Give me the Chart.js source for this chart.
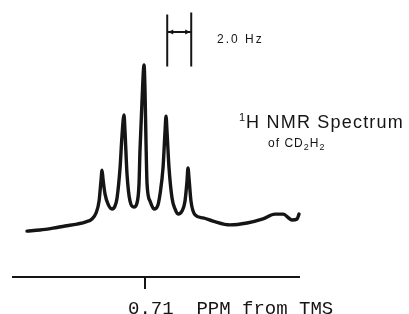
<!DOCTYPE html>
<html>
<head>
<meta charset="utf-8">
<script src="https://cdn.jsdelivr.net/npm/chart.js@4.4.0/dist/chart.umd.min.js"></script>
<style>
  html, body { margin: 0; padding: 0; background: #fff; }
  #wrap { width: 409px; height: 314px; }
</style>
</head>
<body>
<div id="wrap"><canvas id="nmr"></canvas></div>
<script>
// offset from 0.71 ppm in Hz, and relative signal height
var shiftHz = [-9.83, -8.75, -7.67, -6.67, -5.67, -4.92, -4.42, -4.08, -3.83, -3.67,
  -3.58, -3.5, -3.33, -3.08, -2.75, -2.5, -2.33, -2.08, -1.92, -1.75,
  -1.67, -1.5, -1.25, -0.92, -0.67, -0.5, -0.42, -0.25, -0.08, 0,
  0.08, 0.17, 0.42, 0.75, 1.08, 1.25, 1.5, 1.67, 1.75, 1.83,
  2.0, 2.25, 2.5, 2.75, 3.08, 3.33, 3.5, 3.58, 3.67, 3.83,
  4.17, 4.83, 5.67, 7.08, 8.5, 9.83, 10.83, 11.5, 12.25, 12.67, 12.83];
var intensity = [17.0, 17.4, 18.1, 18.9, 19.6, 20.4, 21.5, 23.7, 28.1, 35.6,
  39.6, 36.3, 30.7, 27.0, 25.2, 26.3, 29.3, 40.4, 52.2, 60.0,
  54.1, 38.1, 28.1, 25.9, 27.4, 34.4, 46.7, 65.2, 78.5, 68.9,
  50.4, 34.4, 28.1, 25.2, 26.7, 30.7, 40.4, 54.1, 59.6, 54.1,
  40.4, 29.3, 25.2, 23.3, 24.4, 28.1, 35.6, 40.4, 36.3, 28.1,
  23.0, 21.9, 20.7, 19.3, 20.0, 21.5, 23.3, 23.3, 21.1, 21.5, 23.3];
var tickValues = [0];
var tickLabels = ["0.71  PPM from TMS"];
var couplingHz = 2.0;

var ink = "#151515";

var points = shiftHz.map(function (v, i) {
  return { x: v, y: intensity[i] };
});

// text and the coupling bar, placed through the scales
var notes = {
  id: "notes",
  afterDraw: function (chart) {
    var ctx = chart.ctx;
    var xs = chart.scales.x;
    var ys = chart.scales.y;
    ctx.save();
    ctx.strokeStyle = ink;
    ctx.fillStyle = ink;
    ctx.lineWidth = 2;

    var x1 = xs.getPixelForValue(1.85);
    var x2 = xs.getPixelForValue(1.85 + couplingHz);
    var top = ys.getPixelForValue(98);
    var bot = ys.getPixelForValue(78);
    var mid = ys.getPixelForValue(90.7);
    ctx.beginPath();
    ctx.moveTo(x1, top + 2); ctx.lineTo(x1, bot);
    ctx.moveTo(x2, top); ctx.lineTo(x2, bot);
    ctx.moveTo(x1, mid); ctx.lineTo(x2, mid);
    ctx.stroke();
    ctx.beginPath();
    ctx.moveTo(x1 + 1, mid); ctx.lineTo(x1 + 6, mid - 2.5); ctx.lineTo(x1 + 6, mid + 2.5);
    ctx.moveTo(x2 - 1, mid); ctx.lineTo(x2 - 6, mid - 2.5); ctx.lineTo(x2 - 6, mid + 2.5);
    ctx.fill();

    ctx.textBaseline = "alphabetic";
    ctx.textAlign = "left";
    ctx.letterSpacing = "2px";
    ctx.font = "12px 'Liberation Sans', Arial, sans-serif";
    ctx.fillText("2.0 Hz", xs.getPixelForValue(6.0), ys.getPixelForValue(86.7));

    // 1H NMR Spectrum
    var tx = xs.getPixelForValue(7.83);
    var ty = ys.getPixelForValue(55.2);
    ctx.letterSpacing = "0px";
    ctx.font = "11px 'Liberation Sans', Arial, sans-serif";
    ctx.fillText("1", tx, ty - 7);
    tx += ctx.measureText("1").width + 1;
    ctx.letterSpacing = "1.2px";
    ctx.font = "18px 'Liberation Sans', Arial, sans-serif";
    ctx.fillText("H NMR Spectrum", tx, ty);

    // of CD2H2
    var sx = xs.getPixelForValue(10.25);
    var sy = ys.getPixelForValue(48.1);
    var parts = [["of CD", 0], ["2", 1], ["H", 0], ["2", 1]];
    ctx.letterSpacing = "1px";
    parts.forEach(function (p) {
      ctx.font = (p[1] ? "9px" : "12px") + " 'Liberation Sans', Arial, sans-serif";
      ctx.fillText(p[0], sx, sy + (p[1] ? 3 : 0));
      sx += ctx.measureText(p[0]).width;
    });
    ctx.restore();
  }
};

var config = {
  type: "line",
  data: {
    datasets: [
      {
        label: "CD2H2",
        data: points,
        borderColor: ink,
        borderWidth: 3.4,
        borderJoinStyle: "round",
        borderCapStyle: "round",
        pointRadius: 0,
        fill: false,
        cubicInterpolationMode: "monotone",
        clip: false,
      },
    ],
  },
  options: {
    responsive: true,
    maintainAspectRatio: false,
    animation: false,
    devicePixelRatio: 1,
    layout: { padding: { left: 13, right: 110, top: 7, bottom: 0 } },
    plugins: {
      legend: { display: false },
      tooltip: { enabled: false },
    },
    scales: {
      x: {
        type: "linear",
        min: -11,
        max: 12.83,
        afterBuildTicks: function (scale) {
          scale.ticks = tickValues.map(function (v) { return { value: v }; });
        },
        afterFit: function (scale) {
          // the long label may run past the axis end and off the bottom
          scale.paddingLeft = 0;
          scale.paddingRight = 0;
          scale.height = 37;
        },
        grid: {
          display: true,
          drawOnChartArea: false,
          drawTicks: true,
          tickLength: 12,
          color: ink,
          lineWidth: 2,
        },
        border: { display: true, color: ink, width: 2 },
        ticks: {
          autoSkip: false,
          maxRotation: 0,
          minRotation: 0,
          align: "start",
          labelOffset: -17,
          padding: 12,
          color: ink,
          font: { family: "'Liberation Mono', 'Courier New', monospace", size: 19, lineHeight: 0.8 },
          callback: function (value, index) {
            return tickLabels[index];
          },
        },
      },
      y: {
        display: false,
        min: 0,
        max: 100,
      },
    },
  },
  plugins: [notes],
};

var ctxOne = document.getElementById("nmr").getContext("2d");
new Chart(ctxOne, config);
</script>
</body>
</html>
